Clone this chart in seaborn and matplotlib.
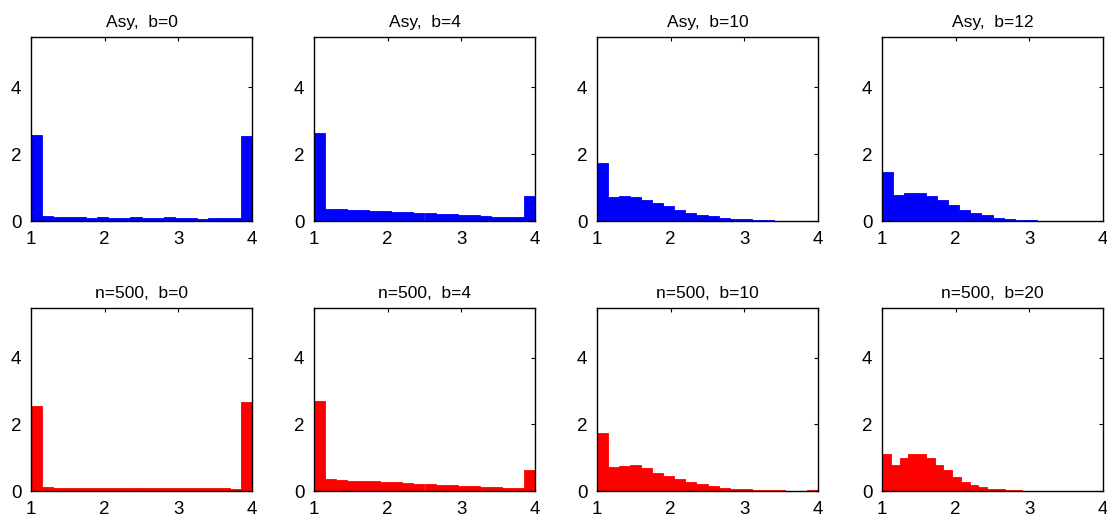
import numpy as np
import pandas as pd
import matplotlib
matplotlib.use("Agg")
import matplotlib.pyplot as plt
import seaborn as sns

# alturas de las barras (densidad), 20 bins por panel
asy_b0 = [2.57, 0.14, 0.11, 0.13, 0.12, 0.09, 0.13, 0.08, 0.08, 0.11, 0.08, 0.09, 0.11, 0.09, 0.08, 0.06, 0.08, 0.08, 0.10, 2.54]
asy_b4 = [2.64, 0.37, 0.36, 0.34, 0.32, 0.30, 0.29, 0.27, 0.26, 0.24, 0.23, 0.21, 0.20, 0.19, 0.17, 0.15, 0.12, 0.13, 0.11, 0.76]
asy_b10 = [1.72, 0.72, 0.75, 0.72, 0.64, 0.55, 0.45, 0.34, 0.24, 0.19, 0.14, 0.10, 0.07, 0.05, 0.03, 0.02, 0.01, 0.01, 0.01, 0.01]
asy_b12 = [1.45, 0.79, 0.85, 0.85, 0.75, 0.64, 0.48, 0.34, 0.24, 0.17, 0.10, 0.06, 0.03, 0.02, 0.01, 0.01, 0.005, 0.005, 0.005, 0.005]
n500_b0 = [2.54, 0.12, 0.10, 0.10, 0.10, 0.10, 0.10, 0.09, 0.09, 0.09, 0.09, 0.10, 0.09, 0.08, 0.08, 0.08, 0.08, 0.08, 0.06, 2.66]
n500_b4 = [2.70, 0.35, 0.33, 0.31, 0.30, 0.29, 0.27, 0.26, 0.24, 0.22, 0.21, 0.19, 0.18, 0.16, 0.14, 0.13, 0.12, 0.10, 0.09, 0.62]
n500_b10 = [1.73, 0.71, 0.75, 0.78, 0.68, 0.55, 0.45, 0.35, 0.26, 0.20, 0.14, 0.09, 0.06, 0.05, 0.03, 0.02, 0.02, 0.01, 0.01, 0.02]
n500_b20 = [1.12, 0.78, 1.00, 1.11, 1.11, 0.98, 0.79, 0.62, 0.43, 0.26, 0.18, 0.11, 0.07, 0.05, 0.03, 0.02, 0.01, 0.01, 0.01, 0.01]

# rango de los bins de cada panel
ranges = [(1, 4), (1, 4), (1, 4), (1, 4), (1, 4), (1, 4), (1, 4), (1, 3.38)]
titles = ["Asy,  b=0", "Asy,  b=4", "Asy,  b=10", "Asy,  b=12",
          "n=500,  b=0", "n=500,  b=4", "n=500,  b=10", "n=500,  b=20"]
heights = [asy_b0, asy_b4, asy_b10, asy_b12, n500_b0, n500_b4, n500_b10, n500_b20]
colors = ["#0000ff"] * 4 + ["#ff0000"] * 4

sns.set_style("white")
plt.rcParams['font.family'] = ['Liberation Sans', 'DejaVu Sans']

fig = plt.figure(figsize=(11.07, 5.2), dpi=100)
lefts = [31, 314, 597, 882]
W, H = 1107, 520

for i in range(8):
    row, col = divmod(i, 4)
    top = 37 if row == 0 else 308
    bottom = 221 if row == 0 else 491
    ax = fig.add_axes([lefts[col] / W, 1 - bottom / H, 221 / W, (bottom - top) / H])
    lo, hi = ranges[i]
    step = (hi - lo) / 20
    df = pd.DataFrame({"x": lo + step * (np.arange(20) + 0.5), "h": heights[i]})
    sns.histplot(data=df, x="x", weights="h", bins=20, binrange=(lo, hi), stat="count",
                 color=colors[i], edgecolor=colors[i], alpha=1, linewidth=0.6, ax=ax)
    ax.set_xlim(1, 4)
    ax.set_ylim(0, 5.5)
    ax.set_xticks([1, 2, 3, 4])
    ax.set_yticks([0, 2, 4])
    ax.set_ylabel("")
    ax.set_xlabel("")
    ax.tick_params(direction="in", length=3, width=0.8, top=True, right=True,
                   labelsize=13.5, pad=7, colors="black")
    for s in ax.spines.values():
        s.set_color("black")
        s.set_linewidth(1)
    ax.set_title(titles[i], fontsize=12.5, pad=7, color="black")

fig.savefig("out.png", dpi=100)
